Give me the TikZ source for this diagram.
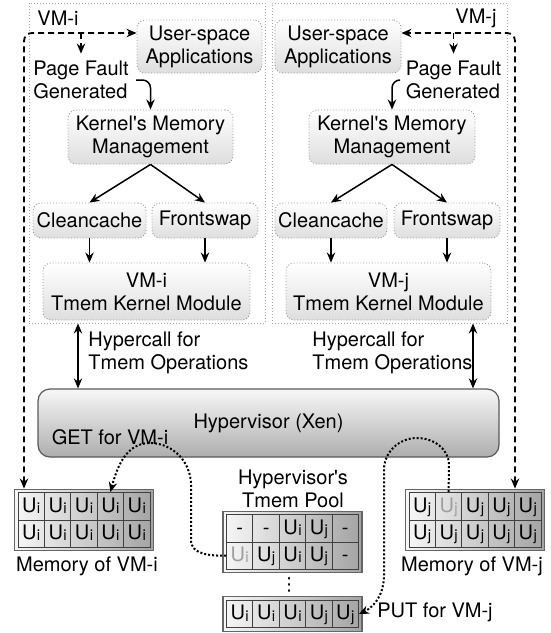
\documentclass[tikz,border=0pt]{standalone}
\usepackage{fontspec}
\setmainfont{TeX Gyre Heros}
\newfontfamily\symfont{DejaVu Sans}
\usepackage{tikz}
\usetikzlibrary{arrows.meta,positioning,calc,matrix}

\newcommand{\Ui}{U\kern0.2pt\raisebox{-0.6pt}{\fontsize{7.5}{8}\selectfont i}}
\newcommand{\Uj}{U\kern0.2pt\raisebox{-0.6pt}{\fontsize{7.5}{8}\selectfont j}}

\begin{document}
\begin{tikzpicture}[x=0.5pt, y=-0.5pt, >={Stealth[length=5pt,width=4.2pt]}, line width=0.75pt,
  every node/.style={font=\fontsize{10}{11.5}\selectfont},
  vmbox/.style={rectangle, draw=gray!70, densely dotted, line width=0.5pt, inner sep=0pt},
  block/.style={rectangle, rounded corners=4pt, draw=gray!85, densely dotted, line width=0.45pt,
    top color=white, bottom color=gray!26, align=center, inner sep=0pt},
  hyper/.style={rectangle, rounded corners=6pt, draw=black!65, line width=0.6pt,
    top color=gray!6, bottom color=gray!64, inner sep=0pt},
  memcell/.style={rectangle, draw=black!75, line width=0.45pt, minimum width=13.2pt,
    minimum height=13.7pt, text height=7.4pt, text depth=1.6pt, inner sep=0pt},
  memarray/.style={matrix of nodes, ampersand replacement=\&, draw=black!60, line width=0.6pt,
    inner sep=1.5pt, left color=gray!6, right color=gray!72, column sep=-0.45pt,
    row sep=-0.45pt, nodes={memcell}},
  dashedline/.style={dash pattern=on 3pt off 2pt, line width=0.9pt},
  dottedline/.style={densely dotted, line width=1pt}
]

% VM containers
\node[vmbox, minimum width=118pt, minimum height=160pt] (vmi) at (147,163) {};
\node[vmbox, minimum width=117.5pt, minimum height=160pt] (vmj) at (389.5,163) {};
\node (lblI) at (58,18) {VM-i};
\node (lblJ) at (476,18) {VM-j};

% VM-i guest stack
\node[block, minimum width=62.5pt, minimum height=26.5pt] (usrI) at (199.5,46.5) {User-space\\Applications};
\node[align=left] (pfI) at (81,80) {Page Fault\\Generated};
\node[block, minimum width=82.5pt, minimum height=27pt] (kmmI) at (150.5,137) {Kernel\textquotesingle s Memory\\Management};
\node[block, minimum width=56.5pt, minimum height=17.5pt] (ccI) at (89.5,220.5) {Cleancache};
\node[block, minimum width=53pt, minimum height=17.5pt] (fsI) at (205,220.5) {Frontswap};
\node[block, minimum width=103.5pt, minimum height=28.5pt] (tkmI) at (146.5,291.5) {VM-i\\Tmem Kernel Module};

% VM-j guest stack
\node[block, minimum width=63pt, minimum height=26.5pt] (usrJ) at (338,46.5) {User-space\\Applications};
\node[align=left] (pfJ) at (453.5,80) {Page Fault\\Generated};
\node[block, minimum width=83pt, minimum height=27pt] (kmmJ) at (392,137) {Kernel\textquotesingle s Memory\\Management};
\node[block, minimum width=56pt, minimum height=17.5pt] (ccJ) at (331,220.5) {Cleancache};
\node[block, minimum width=53pt, minimum height=17.5pt] (fsJ) at (447,220.5) {Frontswap};
\node[block, minimum width=102.5pt, minimum height=28.5pt] (tkmJ) at (388.5,291.5) {VM-j\\Tmem Kernel Module};

% Hypercall labels
\node[align=left, anchor=west] (hcI) at (81,353) {Hypercall for\\Tmem Operations};
\node[align=left, anchor=west] (hcJ) at (305,353) {Hypercall for\\Tmem Operations};

% Hypervisor
\node[hyper, minimum width=230.5pt, minimum height=34pt] (hyp) at (268.5,423) {Hypervisor (Xen)};
\node (getI) at (110,437) {GET for VM-i};

% Guest memories
\matrix (memi) [memarray] at (84,520) {
  \Ui \& \Ui \& \Ui \& \Ui \& \Ui \\
  \Ui \& \Ui \& \Ui \& \Ui \& \Ui \\
};
\node (memiLbl) at (87,566) {Memory of VM-i};

\matrix (memj) [memarray] at (475,520) {
  \Uj \& |[text=gray!75]| \Uj \& \Uj \& \Uj \& \Uj \\
  \Uj \& \Uj \& \Uj \& \Uj \& \Uj \\
};
\node (memjLbl) at (472,566) {Memory of VM-j};

% Tmem pool
\node[align=center] (poolLbl) at (293,489) {Hypervisor\textquotesingle s\\Tmem Pool};
\matrix (pool) [memarray] at (292.5,542) {
  - \& - \& \Ui \& \Uj \& - \\
  |[text=gray!75]| \Ui \& \Uj \& \Ui \& \Uj \& - \\
};
\node[font=\symfont\fontsize{9}{9}\selectfont, inner sep=0pt] (pooldots) at (289,585) {⋮};
\matrix (bot) [memarray] at (292.5,614) {
  \Ui \& \Ui \& \Ui \& \Uj \& \Uj \\
};
\node (putJ) at (435,612) {PUT for VM-j};

% Arrows - guest stacks
\draw[->, rounded corners=4pt] (pfI.east) -| (kmmI.north);
\draw[->] (kmmI.south) -- (ccI.north);
\draw[->] (kmmI.south) -- (fsI.north);
\draw[->] (ccI.south) -- (ccI.south |- tkmI.north);
\draw[->] (fsI.south) -- (fsI.south |- tkmI.north);

\draw[->, rounded corners=4pt] (pfJ.west) -| (kmmJ.north);
\draw[->] (kmmJ.south) -- (ccJ.north);
\draw[->] (kmmJ.south) -- (fsJ.north);
\draw[->] (ccJ.south) -- (ccJ.south |- tkmJ.north);
\draw[->] (fsJ.south) -- (fsJ.south |- tkmJ.north);

% Arrows - hypercalls
\coordinate (hcA) at (78,0);
\coordinate (hcB) at (473,0);
\draw[<->] (vmi.south -| hcA) -- (hyp.north -| hcA);
\draw[<->] (vmj.south -| hcB) -- (hyp.north -| hcB);

% Dashed arrows - page faults and guest memory
\coordinate (dashI) at (24,33);
\coordinate (dashJ) at (515,33);
\draw[<->, dashedline, rounded corners=4pt] (memi.north -| dashI) -- (dashI) -- (usrI.west |- dashI);
\draw[->, dashedline] (pfI.north |- dashI) -- (pfI.north);
\draw[<->, dashedline, rounded corners=4pt] (memj.north -| dashJ) -- (dashJ) -- (usrJ.east |- dashJ);
\draw[->, dashedline] (pfJ.north |- dashJ) -- (pfJ.north);

% Dotted arrows - GET and PUT
\draw[->, dottedline] (pool-2-1.west) to[out=180,in=-90] (191,540) -- (191,485)
  to[out=90,in=0] (150,443) to[out=180,in=75] (memi-1-4.north);
\draw[->, dottedline] (memj-1-2.north) -- (449,465) to[out=90,in=0] (417,438)
  to[out=180,in=90] (384,470) -- (384,575) to[out=-90,in=25] (bot-1-5.east);

\useasboundingbox (0,0) rectangle (551,633);
\end{tikzpicture}
\end{document}
